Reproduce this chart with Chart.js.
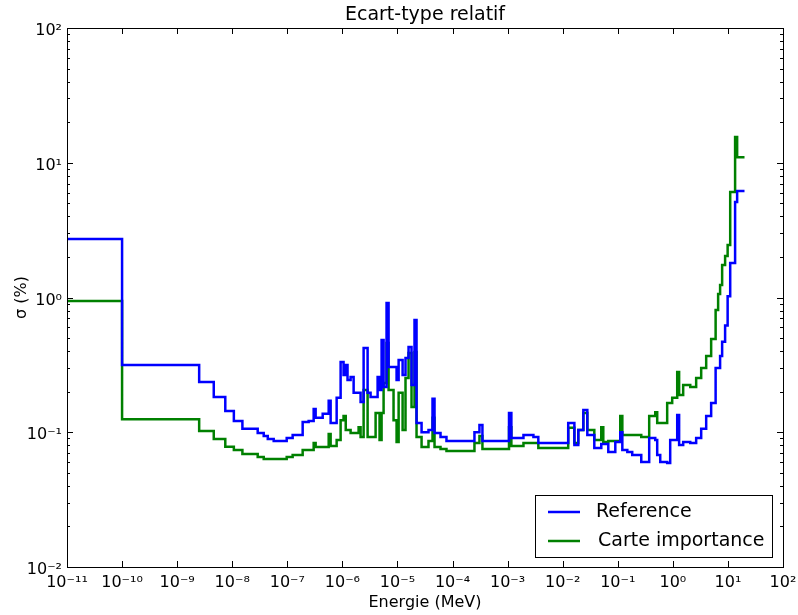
<!DOCTYPE html>
<html>
<head>
<meta charset="utf-8">
<title>Ecart-type relatif</title>
<script src="https://cdn.jsdelivr.net/npm/chart.js@4.4.0/dist/chart.umd.min.js"></script>
<style>
	html, body { margin: 0; padding: 0; background: #fff; }
	#chart_box { width: 798px; height: 615px; }
</style>
</head>
<body>
<div id="chart_box"><canvas id="sigma_report" width="798" height="615"></canvas></div>
<script>
/* Energy group lower bounds (MeV), last value closes the final group */
var energies = [
	1e-11, 1e-10, 2.51e-9, 4.62e-9, 7.48e-9, 1.07e-8, 1.53e-8, 2.90e-8, 3.73e-8, 4.42e-8,
	5.66e-8, 9.75e-8, 1.25e-7, 1.90e-7, 2.44e-7, 3.01e-7, 3.27e-7, 4.39e-7, 5.64e-7, 6.12e-7,
	7.87e-7, 9.29e-7, 1.05e-6, 1.15e-6, 1.24e-6, 1.41e-6, 1.60e-6, 1.97e-6, 2.14e-6, 2.43e-6,
	2.87e-6, 3.25e-6, 4.01e-6, 4.36e-6, 4.73e-6, 5.15e-6, 5.60e-6, 6.34e-6, 6.90e-6, 8.49e-6,
	9.64e-6, 1.05e-5, 1.24e-5, 1.40e-5, 1.59e-5, 1.80e-5, 2.04e-5, 2.22e-5, 2.74e-5, 3.66e-5,
	4.33e-5, 4.71e-5, 6.05e-5, 7.76e-5, 2.50e-4, 3.08e-4, 3.49e-4, 1.06e-3, 1.17e-3, 1.94e-3,
	2.94e-3, 3.61e-3, 1.26e-2, 1.63e-2, 1.92e-2, 2.37e-2, 2.80e-2, 3.75e-2, 5.02e-2, 5.46e-2,
	6.73e-2, 9.02e-2, 0.111, 0.121, 0.149, 0.183, 0.267, 0.372, 0.479, 0.520,
	0.590, 0.789, 0.895, 0.973, 1.20, 1.30, 1.54, 2.07, 2.65, 3.27,
	4.03, 4.96, 5.98, 6.64, 7.21, 7.85, 8.18, 8.89, 9.88, 11.0,
	13.5, 14.7, 20
];

/* Relative standard deviation (%) per group */
var sigmaReference = [
	2.72, 0.316, 0.236, 0.183, 0.144, 0.121, 0.106, 0.0987, 0.0938, 0.0891,
	0.0861, 0.0906, 0.0954, 0.119, 0.121, 0.149, 0.128, 0.137, 0.171, 0.117,
	0.180, 0.332, 0.266, 0.316, 0.244, 0.257, 0.196, 0.196, 0.168, 0.422,
	0.196, 0.183, 0.183, 0.257, 0.206, 0.484, 0.217, 0.910, 0.305, 0.305,
	0.244, 0.344, 0.266, 0.356, 0.429, 0.224, 0.681, 0.117, 0.100, 0.104,
	0.177, 0.0987, 0.0922, 0.0861, 0.100, 0.113, 0.0861, 0.139, 0.0906, 0.0954,
	0.0922, 0.0832, 0.117, 0.0804, 0.104, 0.146, 0.0954, 0.0764, 0.0818, 0.0818,
	0.0713, 0.0847, 0.100, 0.0738, 0.0713, 0.0678, 0.0601, 0.0906, 0.0876, 0.0678,
	0.0601, 0.0591, 0.0876, 0.0876, 0.134, 0.0804, 0.0847, 0.0832, 0.0906, 0.106,
	0.132, 0.165, 0.300, 0.300, 0.368, 0.470, 0.470, 0.620, 1.02, 1.80,
	5.11, 6.17, 6.17
];

var sigmaCarte = [
	0.942, 0.125, 0.102, 0.0891, 0.0781, 0.0738, 0.0690, 0.0655, 0.0633, 0.0633,
	0.0633, 0.0655, 0.0678, 0.0738, 0.0738, 0.0832, 0.0777, 0.0777, 0.0971, 0.0791,
	0.0876, 0.123, 0.132, 0.104, 0.104, 0.0987, 0.0987, 0.109, 0.0922, 0.206,
	0.0922, 0.0922, 0.139, 0.139, 0.0876, 0.139, 0.232, 0.459, 0.206, 0.123,
	0.0847, 0.196, 0.104, 0.253, 0.388, 0.154, 0.394, 0.0922, 0.0777, 0.0861,
	0.128, 0.0777, 0.0751, 0.0726, 0.0832, 0.0938, 0.0751, 0.109, 0.0791, 0.0832,
	0.0832, 0.0764, 0.108, 0.0832, 0.104, 0.139, 0.104, 0.0876, 0.109, 0.0847,
	0.0861, 0.0861, 0.132, 0.0954, 0.0954, 0.0954, 0.0922, 0.132, 0.141, 0.117,
	0.117, 0.165, 0.165, 0.180, 0.280, 0.189, 0.224, 0.217, 0.253, 0.300,
	0.368, 0.492, 0.807, 1.06, 1.24, 1.74, 1.74, 2.03, 2.45, 6.07,
	15.5, 11.0, 11.0
];

var seriesLabels = ['Reference', 'Carte importance'];
var seriesColors = ['#0000ff', '#008000'];

var xTickValues = [1e-11, 1e-10, 1e-9, 1e-8, 1e-7, 1e-6, 1e-5, 1e-4, 1e-3, 1e-2, 1e-1, 1e0, 1e1, 1e2];
var yTickValues = [1e-2, 1e-1, 1e0, 1e1, 1e2];

var SUPERSCRIPT = {'-': '\u207b', '0': '\u2070', '1': '\u00b9', '2': '\u00b2', '3': '\u00b3',
	'4': '\u2074', '5': '\u2075', '6': '\u2076', '7': '\u2077', '8': '\u2078', '9': '\u2079'};

function powerLabel(value) {
	var exp = String(Math.round(Math.log10(value)));
	var sup = '';
	for (var i = 0; i < exp.length; i++) {
		sup += SUPERSCRIPT[exp[i]];
	}
	return '10' + sup;
}

function toPoints(values) {
	var pts = [];
	for (var i = 0; i < energies.length; i++) {
		pts.push({x: energies[i], y: values[i]});
	}
	return pts;
}

/* Frame with inward ticks on the four sides, like the usual log-log plot */
var frameTicks = {
	id: 'frameTicks',
	afterDraw: function (chart) {
		var ctx = chart.ctx;
		var area = chart.chartArea;
		var xs = chart.scales.x;
		var ys = chart.scales.y;
		ctx.save();
		ctx.strokeStyle = '#000';
		ctx.lineWidth = 1;
		ctx.beginPath();

		xTickValues.forEach(function (v) {
			var px = Math.round(xs.getPixelForValue(v)) + 0.5;
			ctx.moveTo(px, area.bottom);
			ctx.lineTo(px, area.bottom - 6);
			ctx.moveTo(px, area.top);
			ctx.lineTo(px, area.top + 6);
		});

		for (var d = 0; d < yTickValues.length; d++) {
			var base = yTickValues[d];
			var py = Math.round(ys.getPixelForValue(base)) + 0.5;
			ctx.moveTo(area.left, py);
			ctx.lineTo(area.left + 6, py);
			ctx.moveTo(area.right, py);
			ctx.lineTo(area.right - 6, py);
			if (d == yTickValues.length - 1) {
				continue;
			}
			for (var k = 2; k <= 9; k++) {
				var my = Math.round(ys.getPixelForValue(base * k)) + 0.5;
				ctx.moveTo(area.left, my);
				ctx.lineTo(area.left + 3, my);
				ctx.moveTo(area.right, my);
				ctx.lineTo(area.right - 3, my);
			}
		}
		ctx.stroke();

		ctx.strokeRect(Math.round(area.left) + 0.5, Math.round(area.top) + 0.5,
			Math.round(area.right - area.left), Math.round(area.bottom - area.top));
		ctx.restore();
	}
};

/* Legend box in the lower right corner of the plot */
var cornerLegend = {
	id: 'cornerLegend',
	afterDraw: function (chart) {
		var ctx = chart.ctx;
		var area = chart.chartArea;
		var boxW = 237, boxH = 62;
		var x0 = area.right - 11 - boxW;
		var y0 = area.bottom - 10 - boxH;
		ctx.save();
		ctx.fillStyle = '#fff';
		ctx.fillRect(x0, y0, boxW, boxH);
		ctx.strokeStyle = '#000';
		ctx.lineWidth = 1;
		ctx.strokeRect(Math.round(x0) + 0.5, Math.round(y0) + 0.5, boxW, boxH);
		ctx.font = "19px 'DejaVu Sans'";
		ctx.textBaseline = 'middle';
		chart.data.datasets.forEach(function (ds, i) {
			var cy = y0 + 17 + i * 29;
			ctx.strokeStyle = ds.borderColor;
			ctx.lineWidth = 2.5;
			ctx.beginPath();
			ctx.moveTo(x0 + 13, cy);
			ctx.lineTo(x0 + 45, cy);
			ctx.stroke();
			ctx.fillStyle = '#000';
			ctx.fillText(ds.label, x0 + 61 + i * 2, cy);
		});
		ctx.restore();
	}
};

Chart.defaults.font.family = "'DejaVu Sans'";
Chart.defaults.color = '#000';

var sigma_report = document.getElementById('sigma_report');
var SigmaChart = new Chart(sigma_report, {
	type: 'line',
	data: {
		datasets: [{
			label: seriesLabels[0],
			data: toPoints(sigmaReference),
			borderColor: seriesColors[0],
			backgroundColor: seriesColors[0],
			borderWidth: 2.5,
			pointRadius: 0,
			stepped: 'before',
			fill: false
		}, {
			label: seriesLabels[1],
			data: toPoints(sigmaCarte),
			borderColor: seriesColors[1],
			backgroundColor: seriesColors[1],
			borderWidth: 2.5,
			pointRadius: 0,
			stepped: 'before',
			fill: false
		}]
	},
	options: {
		responsive: false,
		animation: false,
		devicePixelRatio: 1,
		layout: {
			padding: {left: 0, right: 15, top: 0, bottom: 0}
		},
		scales: {
			x: {
				type: 'logarithmic',
				min: 1e-11,
				max: 1e2,
				grid: {display: false, drawTicks: false},
				border: {display: false},
				afterBuildTicks: function (scale) {
					scale.ticks = xTickValues.map(function (v) { return {value: v}; });
				},
				afterFit: function (scale) {
					scale.height = 48;
					scale.paddingLeft = 0;
					scale.paddingRight = 0;
				},
				ticks: {
					autoSkip: false,
					maxRotation: 0,
					padding: 6,
					font: {size: 16},
					callback: function (value) { return powerLabel(value); }
				},
				title: {
					display: true,
					text: 'Energie (MeV)',
					font: {size: 16},
					padding: {top: 0, bottom: 3}
				}
			},
			y: {
				type: 'logarithmic',
				min: 1e-2,
				max: 1e2,
				grid: {display: false, drawTicks: false},
				border: {display: false},
				afterBuildTicks: function (scale) {
					scale.ticks = yTickValues.map(function (v) { return {value: v}; });
				},
				afterFit: function (scale) {
					scale.width = 67;
				},
				ticks: {
					autoSkip: false,
					padding: 5,
					labelOffset: 3,
					font: {size: 16},
					callback: function (value) { return powerLabel(value); }
				},
				title: {
					display: true,
					text: '\u03c3 (%)',
					font: {size: 16},
					padding: {top: 12, bottom: 0}
				}
			}
		},
		plugins: {
			legend: {display: false},
			tooltip: {enabled: false},
			title: {
				display: true,
				text: 'Ecart-type relatif',
				fullSize: false,
				font: {size: 19, weight: 'normal'},
				padding: {top: 4, bottom: 1.2}
			}
		}
	},
	plugins: [frameTicks, cornerLegend]
});
</script>
</body>
</html>
